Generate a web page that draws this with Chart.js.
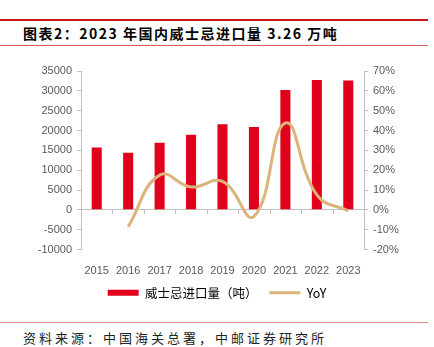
<!DOCTYPE html>
<html>
<head>
<meta charset="utf-8">
<script src="https://cdn.jsdelivr.net/npm/chart.js@4/dist/chart.umd.min.js"></script>
<style>
  body { margin: 0; width: 434px; height: 347px; background: #fff; position: relative; overflow: hidden; }
  .rule { position: absolute; left: 0; width: 428px; }
  #title { position: absolute; left: 23px; top: 23px; font: bold 14px "Noto Sans CJK SC", sans-serif; color: #000; white-space: nowrap; letter-spacing: 1.5px; }
  #source { position: absolute; left: 23px; top: 328px; font: 13px "Noto Sans CJK SC", serif; color: #222; white-space: nowrap; letter-spacing: 3px; }
  #wrap { position: absolute; left: 0; top: 50px; width: 434px; height: 265px; }
</style>
</head>
<body>
<div class="rule" style="top:19px;height:2px;background:#c8161d"></div>
<div id="title">图表2：2023 年国内威士忌进口量 3.26 万吨</div>
<div class="rule" style="top:45px;height:1px;background:#d65a5a"></div>
<div id="wrap"><canvas id="chart" width="434" height="265"></canvas></div>
<div class="rule" style="top:322px;height:1px;background:#e58a8a"></div>
<div id="source">资料来源：中国海关总署，中邮证券研究所</div>

<script>
// data
const years = ['2015', '2016', '2017', '2018', '2019', '2020', '2021', '2022', '2023'];
const imports = [15700, 14400, 16900, 18900, 21600, 20900, 30200, 32700, 32600];
const yoy = [null, -8.5, 17.5, 11.5, 14.3, -3.3, 43.8, 7.5, -0.5];

const axisGray = '#bfbfbf';
const textGray = '#595959';

// tick marks on the zero line between categories
const zeroTicks = {
  id: 'zeroTicks',
  beforeDatasetsDraw(chart) {
    const x = chart.scales.x, y = chart.scales.y;
    const y0 = y.getPixelForValue(0);
    const ctx = chart.ctx;
    ctx.save();
    ctx.strokeStyle = axisGray;
    ctx.lineWidth = 1;
    ctx.beginPath();
    for (let i = 1; i < years.length; i++) {
      let px = Math.round((x.getPixelForValue(i - 1) + x.getPixelForValue(i)) / 2) + 0.5;
      ctx.moveTo(px, y0);
      ctx.lineTo(px, y0 + 4);
    }
    ctx.stroke();
    ctx.restore();
  }
};

new Chart(document.getElementById('chart'), {
  data: {
    labels: years,
    datasets: [
      {
        type: 'line',
        label: 'YoY',
        data: yoy,
        yAxisID: 'y1',
        borderColor: '#dcb37c',
        backgroundColor: '#dcb37c',
        borderWidth: 3,
        pointRadius: 0,
        tension: 0.45,
        order: 0
      },
      {
        type: 'bar',
        label: '威士忌进口量（吨）',
        data: imports,
        yAxisID: 'y',
        backgroundColor: '#e0001b',
        categoryPercentage: 1,
        barPercentage: 0.32,
        order: 1
      }
    ]
  },
  options: {
    responsive: false,
    animation: false,
    layout: { padding: { top: 21, left: 0, right: 0, bottom: 6 } },
    plugins: {
      tooltip: { enabled: false },
      legend: {
        position: 'bottom',
        labels: {
          usePointStyle: true,
          pointStyleWidth: 31,
          boxHeight: 6,
          padding: 12,
          color: textGray,
          font: { family: '"Noto Sans CJK SC", "Liberation Sans", sans-serif', size: 12.5 },
          generateLabels(chart) {
            return [
              { text: '威士忌进口量（吨）', pointStyle: 'rect', fillStyle: '#e0001b', strokeStyle: '#e0001b', lineWidth: 0, datasetIndex: 1 },
              { text: 'YoY', pointStyle: 'line', fillStyle: '#dcb37c', strokeStyle: '#dcb37c', lineWidth: 3, datasetIndex: 0 }
            ];
          }
        }
      }
    },
    scales: {
      x: {
        grid: { display: false },
        border: { display: false },
        ticks: { color: textGray, font: { family: '"Liberation Sans", Arial, sans-serif', size: 11 }, padding: 7, maxRotation: 0 },
        afterFit(scale) { scale.height = 25; }
      },
      y: {
        position: 'left',
        min: -10000,
        max: 35000,
        ticks: { stepSize: 5000, color: textGray, font: { family: '"Liberation Sans", Arial, sans-serif', size: 11 }, padding: 5, callback: v => String(v) },
        grid: {
          color: c => c.tick && c.tick.value === 0 ? axisGray : 'rgba(0,0,0,0)',
          tickColor: axisGray,
          tickLength: 4
        },
        border: { display: true, color: axisGray },
        afterFit(scale) { scale.width = 81; }
      },
      y1: {
        position: 'right',
        min: -20,
        max: 70,
        ticks: { stepSize: 10, color: textGray, font: { family: '"Liberation Sans", Arial, sans-serif', size: 11 }, padding: 5, callback: v => v + '%' },
        grid: { drawOnChartArea: false, tickColor: axisGray, tickLength: 4 },
        border: { display: true, color: axisGray },
        afterFit(scale) { scale.width = 70; }
      }
    }
  },
  plugins: [zeroTicks]
});
</script>
</body>
</html>
